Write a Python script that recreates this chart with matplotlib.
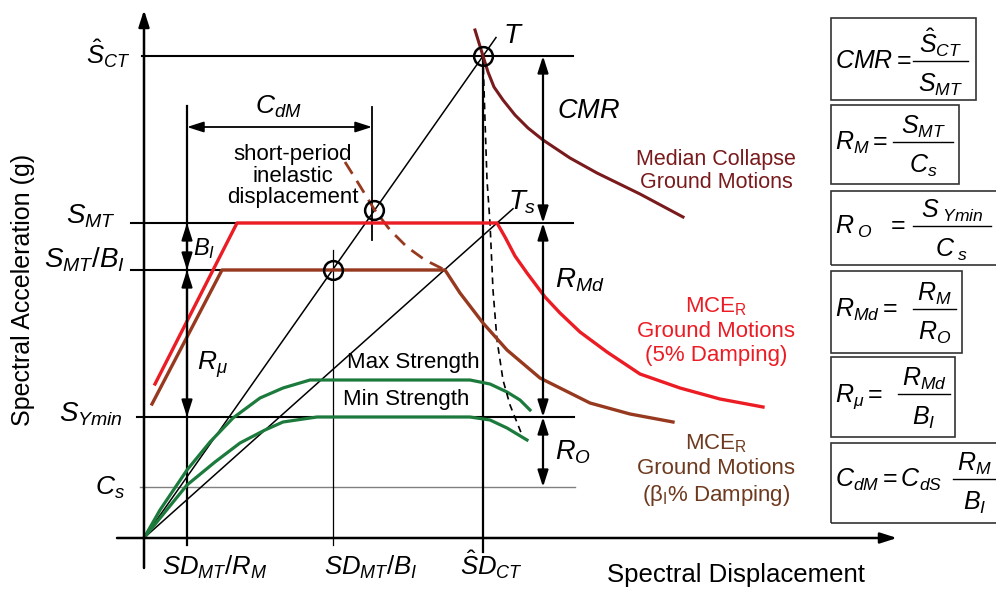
import matplotlib
matplotlib.use("Agg")
import matplotlib.pyplot as plt
from matplotlib.patches import Rectangle

plt.rcParams['font.family'] = ['Liberation Sans', 'DejaVu Sans']
plt.rcParams['mathtext.fontset'] = 'custom'
plt.rcParams['mathtext.it'] = 'Liberation Sans:italic'
plt.rcParams['mathtext.rm'] = 'Liberation Sans'
plt.rcParams['mathtext.sf'] = 'Liberation Sans'
plt.rcParams['mathtext.bf'] = 'Liberation Sans:bold'

# niveaux d'accélération (unités arbitraires)
S_CT = 4.82
S_MT = 3.15
S_MT_BI = 2.68
S_YMIN = 1.21
C_S = 0.51

# déplacements (unités arbitraires)
SD_MT_RM = 0.43
SD_MT_BI = 1.89
SD_CT = 3.39
X_CDM = 2.28
X_FLECHES = 3.99
X_TS = 3.53

# spectre MCE_R 5 %
lX_mce5 = [0.11, 0.93, 3.53, 3.61, 3.71, 3.83, 4.01, 4.16, 4.36, 4.63, 4.96, 5.36, 5.76, 6.19]
lY_mce5 = [1.54, 3.15, 3.15, 3.01, 2.82, 2.65, 2.41, 2.25, 2.06, 1.86, 1.64, 1.50, 1.39, 1.31]

# spectre MCE_R beta_I %
lX_mceB = [0.08, 0.78, 3.01, 3.16, 3.39, 3.63, 3.96, 4.46, 4.86, 5.29]
lY_mceB = [1.34, 2.68, 2.68, 2.45, 2.15, 1.88, 1.60, 1.35, 1.24, 1.16]

# partie courte période (tirets)
lX_courte = [2.01, 2.16, 2.30, 2.46, 2.63, 2.81, 3.01]
lY_courte = [3.76, 3.52, 3.29, 3.08, 2.91, 2.78, 2.68]

# spectre médian d'effondrement
lX_median = [3.31, 3.39, 3.44, 3.50, 3.59, 3.71, 3.84, 3.99, 4.26, 4.53, 4.96, 5.39]
lY_median = [5.08, 4.82, 4.66, 4.51, 4.38, 4.23, 4.10, 3.98, 3.80, 3.65, 3.44, 3.21]

# trajectoire en tirets noirs
lX_traj = [3.39, 3.41, 3.43, 3.46, 3.49, 3.53, 3.59, 3.66, 3.78]
lY_traj = [4.82, 4.18, 3.58, 3.15, 2.48, 1.98, 1.58, 1.33, 1.03]

# courbes pushover
lX_max = [0, 0.16, 0.43, 0.66, 0.89, 1.16, 1.39, 1.66, 3.26, 3.46, 3.63, 3.76, 3.86]
lY_max = [0, 0.28, 0.68, 0.96, 1.20, 1.40, 1.50, 1.58, 1.58, 1.54, 1.46, 1.38, 1.28]
lX_min = [0, 0.21, 0.43, 0.71, 0.96, 1.21, 1.39, 1.73, 3.26, 3.46, 3.63, 3.83]
lY_min = [0, 0.26, 0.53, 0.76, 0.95, 1.08, 1.16, 1.21, 1.21, 1.18, 1.10, 0.98]

# points marqués
lX_cercles = [3.39, 2.30, 1.89]
lY_cercles = [4.82, 3.28, 2.68]

# formules encadrées
lMembresGauche = [r'$CMR=$', r'$R_M=$', r'$R_{\ O}\ \ =$', r'$R_{Md}=$', r'$R_{\mu}=$',
                  r'$C_{dM}=C_{dS}$']
lNumerateurs = [r'$\hat{S}_{CT}$', r'$S_{MT}$', r'$S_{\ Ymin}$', r'$R_M$', r'$R_{Md}$', r'$R_M$']
lDenominateurs = [r'$S_{MT}$', r'$C_s$', r'$C_{\ s}$', r'$R_O$', r'$B_I$', r'$B_I$']

ROUGE = '#ec1c24'
BRUN = '#97391f'
BORDEAUX = '#791a1c'
VERT = '#1c7b3c'

fig = plt.figure(figsize=(9.96, 5.91), dpi=100)
ax = fig.add_axes([0, 0, 1, 1])
ax.set_xlim(-1.44, 8.52)
ax.set_ylim(-0.53, 5.38)
ax.axis('off')

def fleche(x1, y1, x2, y2, style='<|-|>', lw=1.5):
    ax.annotate('', xy=(x2, y2), xytext=(x1, y1),
                arrowprops=dict(arrowstyle=style + ',head_length=1.0,head_width=0.32',
                                color='black', lw=lw, shrinkA=0, shrinkB=0,
                                mutation_scale=10))

# axes
fleche(0, -0.30, 0, 5.28, '-|>', 1.8)
fleche(-0.27, 0, 7.53, 0, '-|>', 1.8)

# niveaux horizontaux
ax.plot([-0.02, 4.29], [S_CT, S_CT], color='black', lw=1.5)
ax.plot([-0.13, 4.29], [S_MT, S_MT], color='black', lw=1.5)
ax.plot([-0.13, 3.01], [S_MT_BI, S_MT_BI], color='black', lw=1.5)
ax.plot([-0.07, 4.30], [S_YMIN, S_YMIN], color='black', lw=1.5)
ax.plot([-0.04, 4.31], [C_S, C_S], color='#808080', lw=1.0)

# verticales
ax.plot([SD_MT_RM, SD_MT_RM], [4.32, -0.07], color='black', lw=1.6)
ax.plot([X_CDM, X_CDM], [4.31, 2.98], color='black', lw=1.3)
ax.plot([SD_MT_BI, SD_MT_BI], [2.88, -0.07], color='black', lw=0.9)
ax.plot([SD_CT, SD_CT], [S_CT, -0.14], color='black', lw=1.6)

# droites passant par l'origine
ax.plot([0, 3.52], [0, 3.52 * S_CT / SD_CT], color='black', lw=1.1)
ax.plot([0, 3.69], [0, 3.69 * S_MT / X_TS], color='black', lw=1.1)

# courbes
ax.plot(lX_max, lY_max, color=VERT, lw=2.3)
ax.plot(lX_min, lY_min, color=VERT, lw=2.3)
ax.plot(lX_traj, lY_traj, color='black', lw=1.2, ls=(0, (4, 3)))
ax.plot(lX_courte, lY_courte, color=BRUN, lw=2.0, ls=(0, (5, 3)))
ax.plot(lX_mceB, lY_mceB, color=BRUN, lw=2.4)
ax.plot(lX_mce5, lY_mce5, color=ROUGE, lw=2.4)
ax.plot(lX_median, lY_median, color=BORDEAUX, lw=2.2)
ax.plot(lX_cercles, lY_cercles, ls='none', marker='o', ms=13.5, mfc='none',
        mec='black', mew=1.8)

# flèches de cotes
fleche(SD_MT_RM, 4.11, X_CDM, 4.11, lw=1.3)
fleche(SD_MT_RM, S_MT, SD_MT_RM, S_MT_BI, lw=1.6)
fleche(SD_MT_RM, S_MT_BI, SD_MT_RM, S_YMIN, lw=1.6)
fleche(X_FLECHES, S_CT, X_FLECHES, S_MT, lw=1.6)
fleche(X_FLECHES, S_MT, X_FLECHES, S_YMIN, lw=1.6)
fleche(X_FLECHES, S_YMIN, X_FLECHES, C_S, lw=1.6)

# étiquettes de l'axe vertical
ax.text(-0.14, 4.74, r'$\hat{S}_{CT}$', fontsize=18.5, ha='right', va='baseline')
ax.text(-0.28, 3.15, r'$S_{MT}$', fontsize=20, ha='right', va='baseline')
ax.text(-0.19, 2.71, r'$S_{MT}/B_I$', fontsize=20, ha='right', va='baseline')
ax.text(-0.21, 1.17, r'$S_{Ymin}$', fontsize=20, ha='right', va='baseline')
ax.text(-0.19, 0.43, r'$C_s$', fontsize=19, ha='right', va='baseline')

# étiquettes de l'axe horizontal
ax.text(0.71, -0.37, r'$SD_{MT}/R_M$', fontsize=18.5, ha='center', va='baseline')
ax.text(2.27, -0.37, r'$SD_{MT}/B_I$', fontsize=18.5, ha='center', va='baseline')
ax.text(3.47, -0.37, r'$\hat{S}D_{CT}$', fontsize=18.5, ha='center', va='baseline')

ax.text(4.63, -0.44, 'Spectral Displacement', fontsize=18.5, ha='left', va='baseline')
ax.text(-1.21, 2.48, 'Spectral Acceleration (g)', fontsize=18, rotation=90,
        ha='center', va='center')

# annotations
ax.text(1.34, 4.24, r'$C_{dM}$', fontsize=19, ha='center', va='baseline')
ax.text(1.49, 3.62, 'short-period\ninelastic\ndisplacement', fontsize=16,
        ha='center', va='center', linespacing=1.05)
ax.text(0.49, 2.83, r'$B_I$', fontsize=17, ha='left', va='baseline')
ax.text(0.53, 1.68, r'$R_{\mu}$', fontsize=19, ha='left', va='baseline')
ax.text(3.59, 4.95, r'$T$', fontsize=20, ha='left', va='baseline')
ax.text(3.64, 3.29, r'$T_s$', fontsize=20, ha='left', va='baseline')
ax.text(4.13, 4.20, r'$CMR$', fontsize=19.5, ha='left', va='baseline')
ax.text(4.11, 2.51, r'$R_{Md}$', fontsize=20, ha='left', va='baseline')
ax.text(4.11, 0.79, r'$R_O$', fontsize=19.5, ha='left', va='baseline')
ax.text(2.03, 1.70, 'Max Strength', fontsize=16, ha='left', va='baseline')
ax.text(1.99, 1.33, 'Min Strength', fontsize=16, ha='left', va='baseline')

ax.text(5.72, 3.67, 'Median Collapse\nGround Motions', fontsize=15.5,
        color=BORDEAUX, ha='center', va='center', linespacing=1.15)
ax.text(5.72, 2.07, 'MCE$_\\mathrm{R}$\nGround Motions\n(5% Damping)', fontsize=16,
        color=ROUGE, ha='center', va='center', linespacing=1.2)
ax.text(5.72, 0.68, 'MCE$_\\mathrm{R}$\nGround Motions\n($\\mathrm{\\beta_I}$% Damping)',
        fontsize=16, color='#6e3a1f', ha='center', va='center', linespacing=1.2)

# encadrés : gauche, bas, droite, haut, barre de fraction (x0, x1, y)
lCadres = [(6.87, 4.38, 8.32, 5.20), (6.87, 3.54, 8.15, 4.33), (6.87, 2.73, 8.70, 3.47),
           (6.87, 1.85, 8.18, 2.67), (6.87, 1.01, 8.11, 1.81), (6.87, 0.15, 8.70, 0.95)]
lBarres = [(7.69, 8.24, 4.77), (7.49, 8.09, 3.96), (7.69, 8.47, 3.12),
           (7.69, 8.12, 2.29), (7.54, 8.06, 1.44), (8.09, 8.52, 0.59)]
for (gauche, bas, droite, haut), (bx0, bx1, by), gauche_txt, num, den in zip(
        lCadres, lBarres, lMembresGauche, lNumerateurs, lDenominateurs):
    ax.add_patch(Rectangle((gauche, bas), droite - gauche, haut - bas, fill=False,
                           ec='#333333', lw=1.2, clip_on=False))
    ax.plot([bx0, bx1], [by, by], color='black', lw=1.0, clip_on=False)
    ax.text(gauche + 0.04, by - 0.075, gauche_txt, fontsize=18, ha='left', va='baseline')
    ax.text((bx0 + bx1) / 2, by + 0.08, num, fontsize=18, ha='center', va='baseline',
            clip_on=False)
    ax.text((bx0 + bx1) / 2, by - 0.11, den, fontsize=18, ha='center', va='top',
            clip_on=False)

fig.savefig('out.png', dpi=100)
